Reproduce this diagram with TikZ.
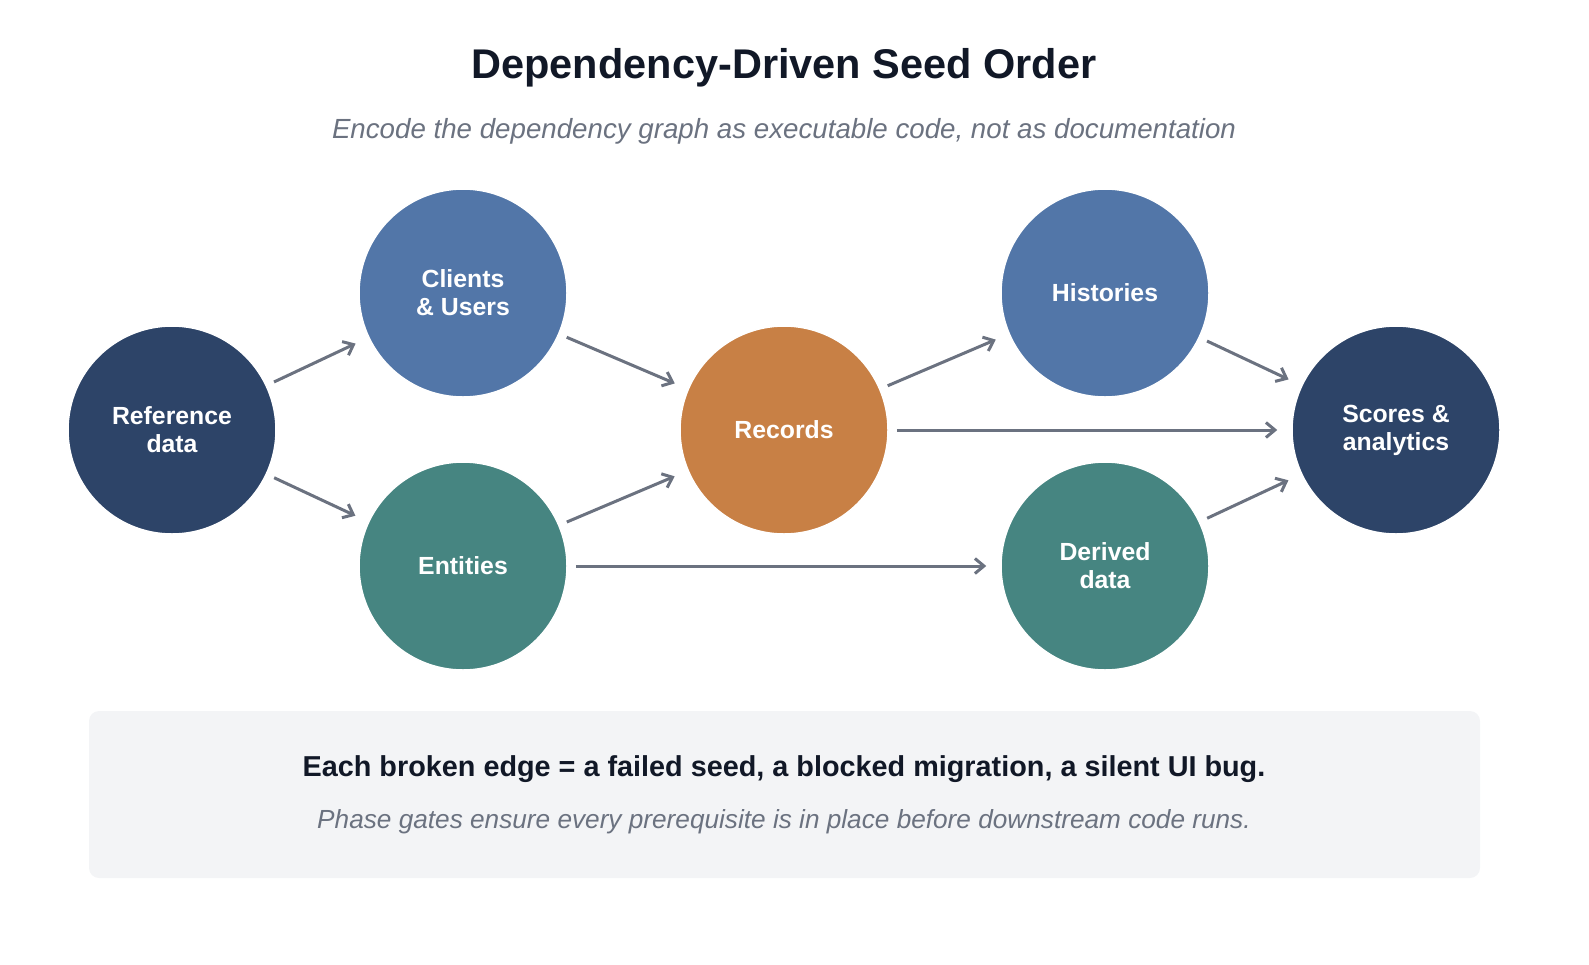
\documentclass[tikz,border=0pt]{standalone}
\usepackage{fontspec}
\setmainfont{Liberation Sans}
\usetikzlibrary{arrows.meta}
\definecolor{navy}{HTML}{2D4468}
\definecolor{blue}{HTML}{5276A8}
\definecolor{teal}{HTML}{468581}
\definecolor{orng}{HTML}{C88045}
\definecolor{arr}{HTML}{6B7280}
\definecolor{ttl}{HTML}{111827}
\definecolor{boxbg}{HTML}{F3F4F6}
\begin{document}
\begin{tikzpicture}[x=1pt,y=-1pt,
  circ/.style={circle,minimum size=208pt,inner sep=0pt,draw=white,line width=1.5pt,text=white,font=\fontsize{24.8}{28}\selectfont\bfseries,align=center},
  ar/.style={draw=arr,line width=3pt,-{Straight Barb[length=9pt,width=15pt,line width=3pt]},shorten <=8pt,shorten >=14pt}]
\useasboundingbox (0,0) rectangle (1589,964);
\node[font=\fontsize{41.5}{48}\selectfont\bfseries,text=ttl] (title) at (784,68) {Dependency-Driven Seed Order};
\node[font=\fontsize{27.7}{32}\selectfont\itshape,text=arr] (sub) at (784,131) {Encode the dependency graph as executable code, not as documentation};
\node[circ,fill=navy] (ref) at (172,430) {Reference\\data};
\node[circ,fill=blue] (cli) at (463,293) {Clients\\\& Users};
\node[circ,fill=teal] (ent) at (463,566) {Entities};
\node[circ,fill=orng] (rec) at (784,430) {Records};
\node[circ,fill=blue] (his) at (1105,293) {Histories};
\node[circ,fill=teal] (der) at (1105,566) {Derived\\data};
\node[circ,fill=navy] (sco) at (1396,430) {Scores \&\\analytics};
\draw[ar] (ref) -- (cli);
\draw[ar] (ref) -- (ent);
\draw[ar] (cli) -- (rec);
\draw[ar] (ent) -- (rec);
\draw[ar] (ent) -- (der);
\draw[ar] (rec) -- (his);
\draw[ar] (rec) -- (sco);
\draw[ar] (his) -- (sco);
\draw[ar] (der) -- (sco);
\node[fill=boxbg,rounded corners=10pt,minimum width=1391pt,minimum height=167pt] (box) at (784.5,794.5) {};
\node[font=\fontsize{28.8}{32}\selectfont\bfseries,text=ttl] (t1) at (784,769) {Each broken edge = a failed seed, a blocked migration, a silent UI bug.};
\node[font=\fontsize{26.2}{30}\selectfont\itshape,text=arr] (t2) at (784,822) {Phase gates ensure every prerequisite is in place before downstream code runs.};
\end{tikzpicture}
\end{document}
